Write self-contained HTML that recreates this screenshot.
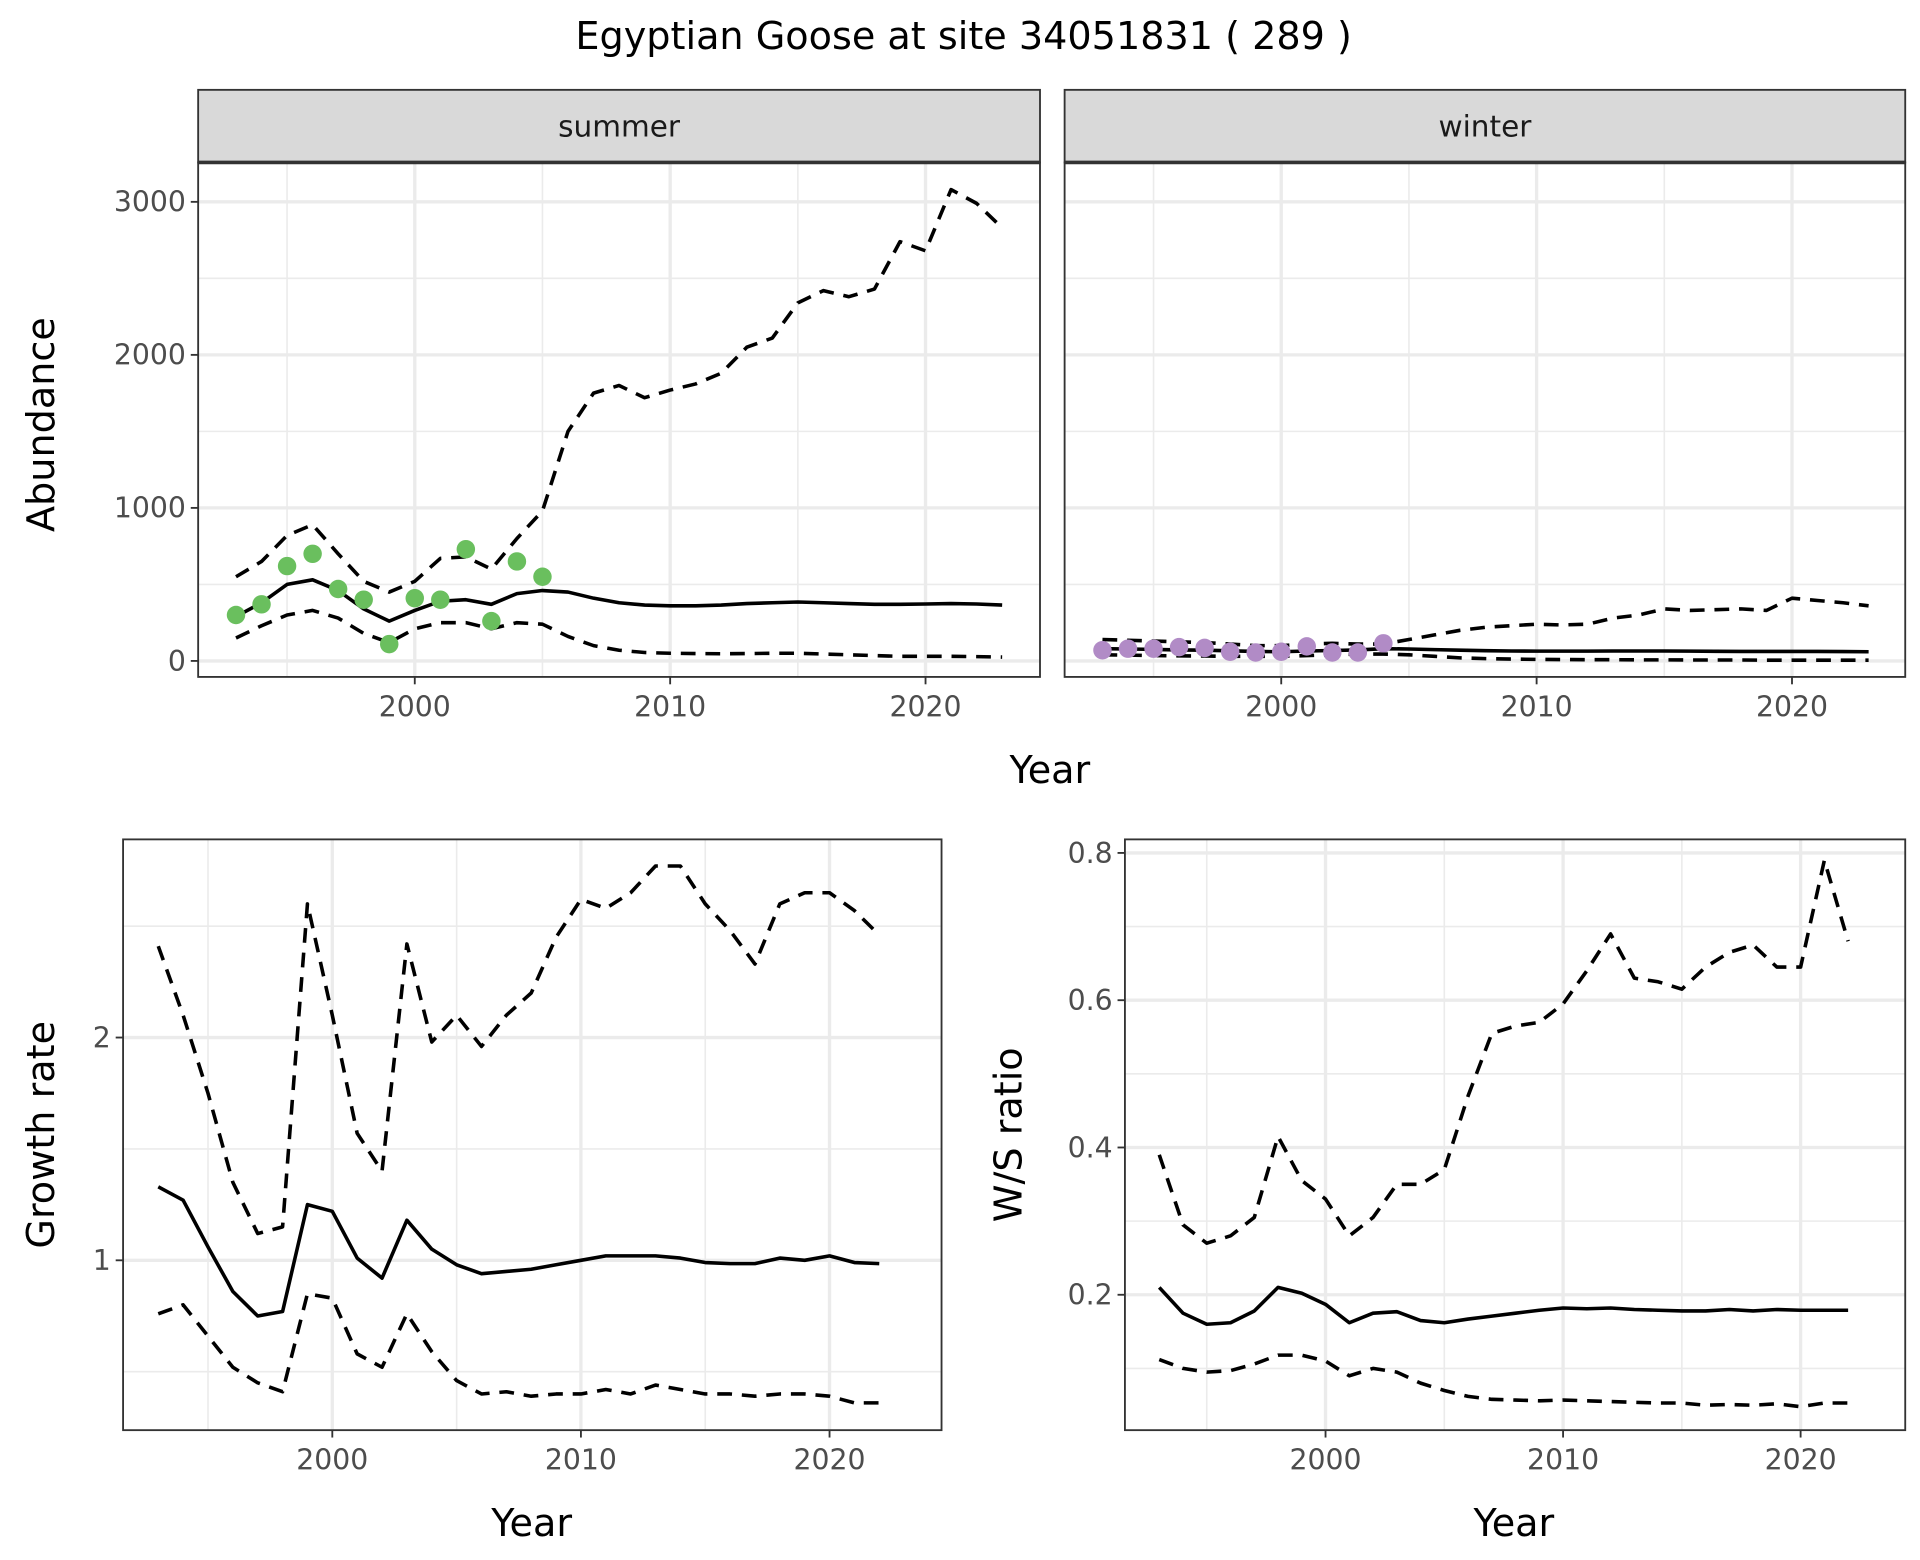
<!DOCTYPE html>
<html><head><meta charset="utf-8"><style>
html,body{margin:0;padding:0;background:#fff;}
svg{display:block;font-family:"DejaVu Sans","Liberation Sans",sans-serif;}
</style></head><body>
<svg id="chart" width="1920" height="1560" viewBox="0 0 1560 1267.5" xmlns="http://www.w3.org/2000/svg">
<rect x="0" y="0" width="1560" height="1267.5" fill="#fff"/>
<text x="783" y="40" font-size="31" text-anchor="middle" fill="#000">Egyptian Goose at site 34051831 ( 289 )</text>
</svg>
<script>
// ---------- data ----------
const yearsAbund = [1993,1994,1995,1996,1997,1998,1999,2000,2001,2002,2003,2004,2005,2006,2007,2008,2009,2010,2011,2012,2013,2014,2015,2016,2017,2018,2019,2020,2021,2022,2023];
const summerMean = [290,380,500,530,460,340,260,330,390,400,370,440,460,450,410,380,365,360,360,365,375,380,385,380,375,370,370,372,375,372,365];
const summerUpper = [550,650,820,890,700,520,450,520,670,680,600,800,980,1500,1750,1800,1720,1770,1810,1880,2050,2110,2340,2420,2380,2430,2740,2680,3080,2990,2830];
const summerLower = [150,230,300,330,280,180,120,210,250,250,210,250,240,160,100,70,55,50,48,47,48,50,50,45,40,35,30,30,30,28,25];
const summerObsYears = [1993,1994,1995,1996,1997,1998,1999,2000,2001,2002,2003,2004,2005];
const summerObs = [300,370,620,700,470,400,110,410,400,730,260,650,550];
const winterMean = [80,78,75,72,70,66,62,60,65,68,72,80,78,74,70,67,65,64,64,64,65,65,65,64,63,62,62,62,62,61,60];
const winterUpper = [140,135,130,125,120,110,100,100,110,115,110,110,140,170,200,220,230,240,235,240,280,300,340,330,335,340,330,410,395,380,360];
const winterLower = [40,38,35,33,32,30,30,30,35,40,45,45,40,30,20,15,12,10,9,8,8,7,7,6,6,6,5,5,5,5,5];
const winterObsYears = [1993,1994,1995,1996,1997,1998,1999,2000,2001,2002,2003,2004];
const winterObs = [70,80,80,90,85,60,55,60,95,55,55,115];
const abundTicks = [0,1000,2000,3000];
const yearTicks = [2000,2010,2020];

const yearsGrowth = [1993,1994,1995,1996,1997,1998,1999,2000,2001,2002,2003,2004,2005,2006,2007,2008,2009,2010,2011,2012,2013,2014,2015,2016,2017,2018,2019,2020,2021,2022];
const growthMean = [1.33,1.27,1.06,0.86,0.75,0.77,1.25,1.22,1.01,0.92,1.18,1.05,0.98,0.94,0.95,0.96,0.98,1.00,1.02,1.02,1.02,1.01,0.99,0.985,0.985,1.01,1.00,1.02,0.99,0.985];
const growthUpper = [2.41,2.1,1.75,1.35,1.12,1.15,2.6,2.1,1.57,1.4,2.42,1.98,2.1,1.96,2.1,2.2,2.45,2.62,2.58,2.65,2.77,2.77,2.6,2.48,2.33,2.6,2.65,2.65,2.57,2.46];
const growthLower = [0.76,0.8,0.66,0.52,0.45,0.41,0.85,0.83,0.58,0.52,0.76,0.59,0.46,0.40,0.41,0.39,0.40,0.40,0.42,0.40,0.44,0.42,0.40,0.40,0.39,0.40,0.40,0.39,0.36,0.36];
const growthTicks = [1,2];
const ratioMean = [0.21,0.175,0.16,0.162,0.178,0.21,0.202,0.187,0.162,0.175,0.177,0.165,0.162,0.167,0.171,0.175,0.179,0.182,0.181,0.182,0.18,0.179,0.178,0.178,0.18,0.178,0.18,0.179,0.179,0.179];
const ratioUpper = [0.39,0.295,0.27,0.28,0.305,0.415,0.355,0.33,0.28,0.305,0.35,0.35,0.37,0.47,0.555,0.565,0.57,0.595,0.64,0.69,0.63,0.625,0.615,0.645,0.665,0.675,0.645,0.645,0.79,0.68];
const ratioLower = [0.112,0.1,0.095,0.097,0.106,0.118,0.118,0.11,0.09,0.1,0.095,0.08,0.07,0.062,0.058,0.057,0.056,0.057,0.056,0.055,0.054,0.053,0.053,0.05,0.051,0.05,0.052,0.048,0.053,0.053];
const ratioTicks = [0.2,0.4,0.6,0.8];

// ---------- helpers ----------
const NS='http://www.w3.org/2000/svg';
const svg=document.getElementById('chart');
function mk(tag,attrs,parent){const e=document.createElementNS(NS,tag);for(const k in attrs)e.setAttribute(k,attrs[k]);(parent||svg).appendChild(e);return e;}
function lin(d0,d1,r0,r1){return v=>r0+(v-d0)*(r1-r0)/(d1-d0);}

function panel(opt){
  const g=mk('g',{});
  
  
  const {x0,x1,y0,y1,sx,sy}=opt;
  opt.minorY.forEach(v=>{const l=mk('line',{x1:x0,x2:x1,y1:sy(v),y2:sy(v),stroke:'#ebebeb','stroke-width':1.3},g);});
  opt.minorX.forEach(v=>{const l=mk('line',{x1:sx(v),x2:sx(v),y1:y0,y2:y1,stroke:'#ebebeb','stroke-width':1.3},g);});
  opt.yTicks.forEach(v=>{const l=mk('line',{x1:x0,x2:x1,y1:sy(v),y2:sy(v),stroke:'#ebebeb','stroke-width':2.7},g);});
  yearTicks.forEach(v=>{const l=mk('line',{x1:sx(v),x2:sx(v),y1:y0,y2:y1,stroke:'#ebebeb','stroke-width':2.7},g);});
  const path=(xs,ys,dash,name)=>{const d=xs.map((x,i)=>(i?'L':'M')+sx(x).toFixed(2)+','+sy(ys[i]).toFixed(2)).join('');const p=mk('path',{d:d,fill:'none',stroke:'#000','stroke-width':2.9,'stroke-linejoin':'round'},g);if(dash)p.setAttribute('stroke-dasharray','12 8');};
  path(opt.xs,opt.upper,true,'upper-ci-line');
  path(opt.xs,opt.lower,true,'lower-ci-line');
  path(opt.xs,opt.mean,false,'mean-line');
  if(opt.obs){opt.obsX.forEach((x,i)=>{const c=mk('circle',{cx:sx(x),cy:sy(opt.obs[i]),r:7.5,fill:opt.obsColor},g);});}
  const b=mk('rect',{x:x0,y:y0,width:x1-x0,height:y1-y0,fill:'none',stroke:'#333','stroke-width':1.5},g);
  
  if(opt.showY){opt.yTicks.forEach(v=>{const t=mk('line',{x1:x0-6,x2:x0,y1:sy(v),y2:sy(v),stroke:'#333','stroke-width':1.5},g);
    const tx=mk('text',{x:x0-10,y:sy(v)+8,'font-size':23,'text-anchor':'end',fill:'#4d4d4d'},g);tx.textContent=opt.yFmt(v);});}
  yearTicks.forEach(v=>{const t=mk('line',{x1:sx(v),x2:sx(v),y1:y1,y2:y1+6,stroke:'#333','stroke-width':1.5},g);
    const tx=mk('text',{x:sx(v),y:y1+32,'font-size':23,'text-anchor':'middle',fill:'#4d4d4d'},g);tx.textContent=v;});
  if(opt.strip){const s=mk('rect',{x:x0,y:73,width:x1-x0,height:y0-73,fill:'#d9d9d9',stroke:'#333','stroke-width':1.5},g);
    const sl=mk('line',{x1:x0,x2:x1,y1:y0,y2:y0,stroke:'#333','stroke-width':3},g);
    const st=mk('text',{x:(x0+x1)/2,y:111,'font-size':24,'text-anchor':'middle',fill:'#1a1a1a'},g);st.textContent=opt.strip;}
}
function label(txt,x,y,rot,name){const t=mk('text',{x:x,y:y,'font-size':31,'text-anchor':'middle',fill:'#000'});if(rot)t.setAttribute('transform','rotate(-90 '+x+' '+y+')');t.textContent=txt;}

const syA=lin(0,3000,537,164);
panel({name:'summer-panel',x0:161,x1:845,y0:132,y1:550,sx:lin(2000,2020,337,752),sy:syA,xs:yearsAbund,mean:summerMean,upper:summerUpper,lower:summerLower,obs:summerObs,obsX:summerObsYears,obsColor:'#6abf5e',yTicks:abundTicks,minorY:[500,1500,2500],minorX:[1995,2005,2015],showY:true,yFmt:v=>v,strip:'summer'});
panel({name:'winter-panel',x0:865,x1:1548,y0:132,y1:550,sx:lin(2000,2020,1041,1456),sy:syA,xs:yearsAbund,mean:winterMean,upper:winterUpper,lower:winterLower,obs:winterObs,obsX:winterObsYears,obsColor:'#b18bc6',yTicks:abundTicks,minorY:[500,1500,2500],minorX:[1995,2005,2015],showY:false,yFmt:v=>v,strip:'winter'});
label('Year',853,636,false,'x-axis-title-top');
label('Abundance',44,345,true,'y-axis-title-abundance');
panel({name:'growth-panel',x0:100,x1:765,y0:682,y1:1162,sx:lin(2000,2020,270,674),sy:lin(1,2,1024,843),xs:yearsGrowth,mean:growthMean,upper:growthUpper,lower:growthLower,yTicks:growthTicks,minorY:[0.5,1.5,2.5],minorX:[1995,2005,2015],showY:true,yFmt:v=>v});
label('Year',432,1248,false,'x-axis-title-growth');
label('Growth rate',44,922,true,'y-axis-title-growth');
panel({name:'ratio-panel',x0:914,x1:1548,y0:682,y1:1162,sx:lin(2000,2020,1077,1463),sy:lin(0.2,0.8,1052,693),xs:yearsGrowth,mean:ratioMean,upper:ratioUpper,lower:ratioLower,yTicks:ratioTicks,minorY:[0.1,0.3,0.5,0.7],minorX:[1995,2005,2015],showY:true,yFmt:v=>v.toFixed(1)});
label('Year',1230,1248,false,'x-axis-title-ratio');
label('W/S ratio',830,922,true,'y-axis-title-ratio');
</script>
</body></html>
